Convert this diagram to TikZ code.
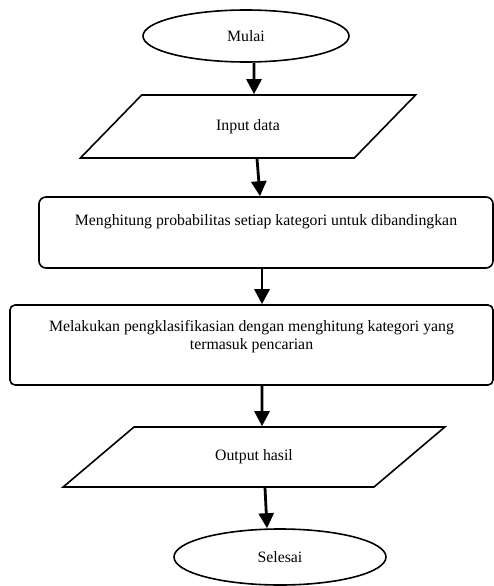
\documentclass[tikz,border=0pt]{standalone}
\usepackage{fontspec}
\setmainfont{Liberation Serif}
\usetikzlibrary{arrows.meta,positioning,shapes.geometric}
\tikzset{
  base/.style={draw=black, line width=1.6pt, align=center, inner sep=0pt, font=\fontsize{15.8}{18}\selectfont},
  terminal/.style={base, ellipse},
  io/.style={base, trapezium, trapezium stretches=true},
  proc/.style={base, rounded corners=7pt, text height=11pt},
  arr/.style={-{Triangle[length=15pt,width=15pt]}, line width=2.8pt, black},
}

\begin{document}
\begin{tikzpicture}[x=1pt, y=-1pt]
        \useasboundingbox (0,0) rectangle (494,586);
        \node[terminal, minimum width=206pt, minimum height=52pt] (mulai) at (246,36) {Mulai};
        \node[io, trapezium left angle=38, trapezium right angle=142, minimum width=338pt, minimum height=63pt] (in) at (248,126.5) {Input data};
        \node[proc, minimum width=454pt, minimum height=71pt, text depth=26pt] (hitung) at (266,232.5) {Menghitung probabilitas setiap kategori untuk dibandingkan};
        \node[proc, rounded corners=5pt, minimum width=483pt, minimum height=80pt, text height=29pt, text depth=21pt] (klas) at (251.5,345) {Melakukan pengklasifikasian dengan menghitung kategori yang\\termasuk pencarian};
        \node[io, trapezium left angle=32, trapezium right angle=148, minimum width=382pt, minimum height=60pt] (out) at (254,457) {Output hasil};
        \node[terminal, minimum width=212pt, minimum height=56pt] (selesai) at (280,557) {Selesai};
        \draw[arr] ([xshift=8pt]mulai.south) -- ([xshift=6pt]in.north);
        \draw[arr] ([xshift=9pt]in.south) -- ([xshift=-6pt]hitung.north);
        \draw[arr] ([xshift=-4pt]hitung.south) -- ([xshift=10.5pt]klas.north);
        \draw[arr] ([xshift=10.5pt]klas.south) -- ([xshift=8pt]out.north);
        \draw[arr] ([xshift=11pt]out.south) -- ([xshift=-13pt]selesai.north);
      \end{tikzpicture}
\end{document}
